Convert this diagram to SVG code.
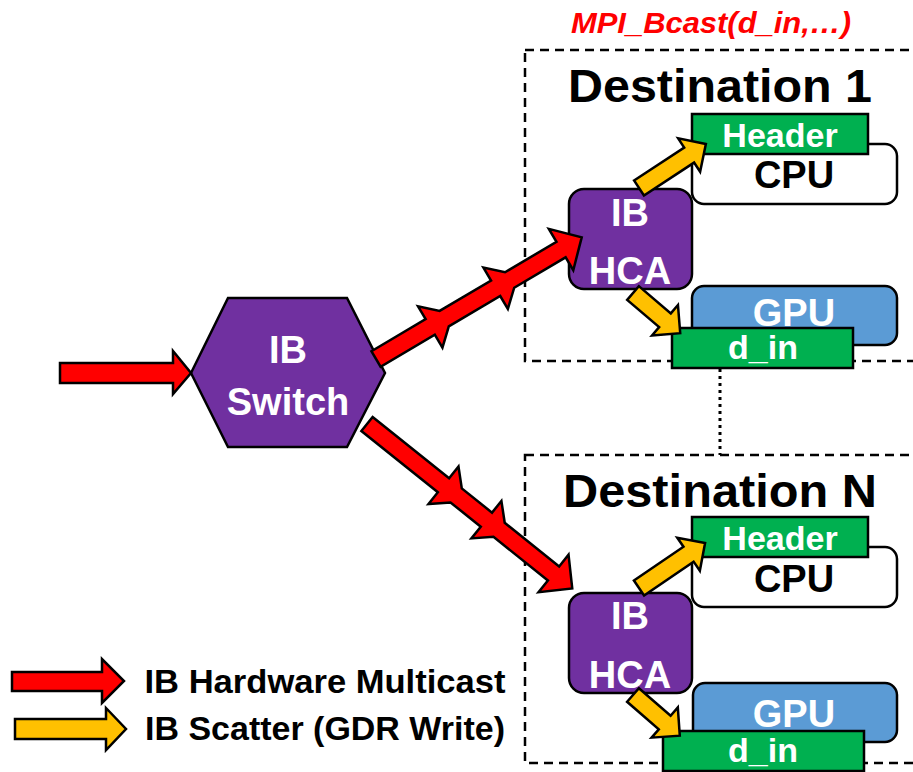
<svg xmlns="http://www.w3.org/2000/svg" width="913" height="772" viewBox="0 0 913 772">
<style>
text{font-family:"Liberation Sans",Arial,sans-serif;font-weight:bold;text-anchor:middle}
.w{fill:#fff}
.k{fill:#000}
.dash{fill:none;stroke:#000;stroke-width:2.5;stroke-dasharray:9,6}
.purple{fill:#7030A0;stroke:#000;stroke-width:2.5}
.green{fill:#00B050;stroke:#000;stroke-width:2.5}
.cpu{fill:#fff;stroke:#000;stroke-width:2.5}
.gpu{fill:#5B9BD5;stroke:#000;stroke-width:2.5}
.red{fill:#FF0000;stroke:#000;stroke-width:2.5;stroke-linejoin:miter}
.yel{fill:#FFC000;stroke:#000;stroke-width:2.5;stroke-linejoin:miter}
</style>
<defs>
<polygon id="yarrow" points="0,-9 60,-9 60,-20 80,0 60,20 60,9 0,9"/>
<polygon id="yarrowS" points="0,-9 42,-9 42,-20 62,0 42,20 42,9 0,9"/>
</defs>
<rect width="913" height="772" fill="#fff"/>

<g id="dest1-frame">
<rect class="dash" x="525" y="50" width="400" height="311"/>
<text x="711" y="33" font-size="29" font-style="italic" fill="#FF0000" textLength="280" lengthAdjust="spacingAndGlyphs">MPI_Bcast(d_in,…)</text>
<text class="k" x="720" y="102" font-size="47" textLength="304" lengthAdjust="spacingAndGlyphs">Destination 1</text>
</g>
<g id="destN-frame">
<rect class="dash" x="525" y="455" width="400" height="308"/>
<text class="k" x="720" y="507" font-size="47" textLength="314" lengthAdjust="spacingAndGlyphs">Destination N</text>
</g>
<line x1="720" y1="369" x2="720" y2="455" stroke="#000" stroke-width="3" stroke-dasharray="3,4"/>

<g id="switch">
<polygon class="purple" points="191,373 228,298 347,298 385,373 347,447 228,447" stroke-width="2"/>
<text class="w" x="288" y="363" font-size="38">IB</text>
<text class="w" x="288" y="415" font-size="38">Switch</text>
</g>

<g id="cpu1">
<rect class="cpu" x="692" y="144" width="205" height="60" rx="12"/>
<text class="k" x="794" y="188" font-size="38">CPU</text>
</g>
<g id="header1">
<rect class="green" x="692" y="114" width="176" height="40"/>
<text class="w" x="780" y="147" font-size="34">Header</text>
</g>
<g id="hca1">
<rect class="purple" x="569" y="189" width="123" height="100" rx="15"/>
<text class="w" x="630" y="226" font-size="38">IB</text>
<text class="w" x="630" y="284" font-size="38">HCA</text>
</g>
<g id="gpu1">
<rect class="gpu" x="692" y="286" width="205" height="59" rx="12"/>
<text class="w" x="794" y="326" font-size="38">GPU</text>
</g>
<g id="din1">
<rect class="green" x="672" y="328" width="181" height="40"/>
<text class="w" x="763" y="359" font-size="34">d_in</text>
</g>

<g id="cpuN">
<rect class="cpu" x="692" y="547" width="205" height="60" rx="12"/>
<text class="k" x="794" y="592" font-size="38">CPU</text>
</g>
<g id="headerN">
<rect class="green" x="692" y="517" width="176" height="40"/>
<text class="w" x="780" y="550" font-size="34">Header</text>
</g>
<g id="hcaN">
<rect class="purple" x="569" y="593" width="123" height="100" rx="15"/>
<text class="w" x="630" y="629" font-size="38">IB</text>
<text class="w" x="630" y="688" font-size="38">HCA</text>
</g>
<g id="gpuN">
<rect class="gpu" x="693" y="683" width="204" height="59" rx="12"/>
<text class="w" x="794" y="727" font-size="38">GPU</text>
</g>
<g id="dinN">
<rect class="green" x="663" y="731" width="201" height="40"/>
<text class="w" x="763" y="762" font-size="34">d_in</text>
</g>

<g id="connectors">
<polygon class="red" points="60,363 173,363 173,351 191,373 173,394 173,383 60,383"/>
<polygon class="red" transform="translate(376,359) rotate(-30.6)" points="0,-9 63,-9 63,-24 79.25,-9 139,-9 139,-24 155.25,-9 215,-9 215,-24 239,0 215,24 215,9 155.25,9 139,24 139,9 79.25,9 63,24 63,9 0,9"/>
<polygon class="red" transform="translate(367,424) rotate(38.7)" points="0,-9 98,-9 98,-24 114.25,-9 153,-9 153,-24 169.25,-9 239,-9 239,-24 263,0 239,24 239,9 169.25,9 153,24 153,9 114.25,9 98,24 98,9 0,9"/>
<use href="#yarrow" class="yel" transform="translate(639,188) rotate(-33.3)"/>
<use href="#yarrowS" class="yel" transform="translate(633,293) rotate(40.4)"/>
<use href="#yarrow" class="yel" transform="translate(639,588) rotate(-34.3)"/>
<use href="#yarrowS" class="yel" transform="translate(633,695) rotate(41)"/>
</g>

<g id="legend">
<polygon class="red" points="12,672 102,672 102,659 124,681 102,703 102,691 12,691"/>
<polygon class="yel" points="15,719 106,719 106,708 126,729 106,750 106,739 15,739"/>
<text class="k" x="325" y="693" font-size="34" textLength="361" lengthAdjust="spacingAndGlyphs">IB Hardware Multicast</text>
<text class="k" x="325" y="740" font-size="34" textLength="360" lengthAdjust="spacingAndGlyphs">IB Scatter (GDR Write)</text>
</g>
</svg>
